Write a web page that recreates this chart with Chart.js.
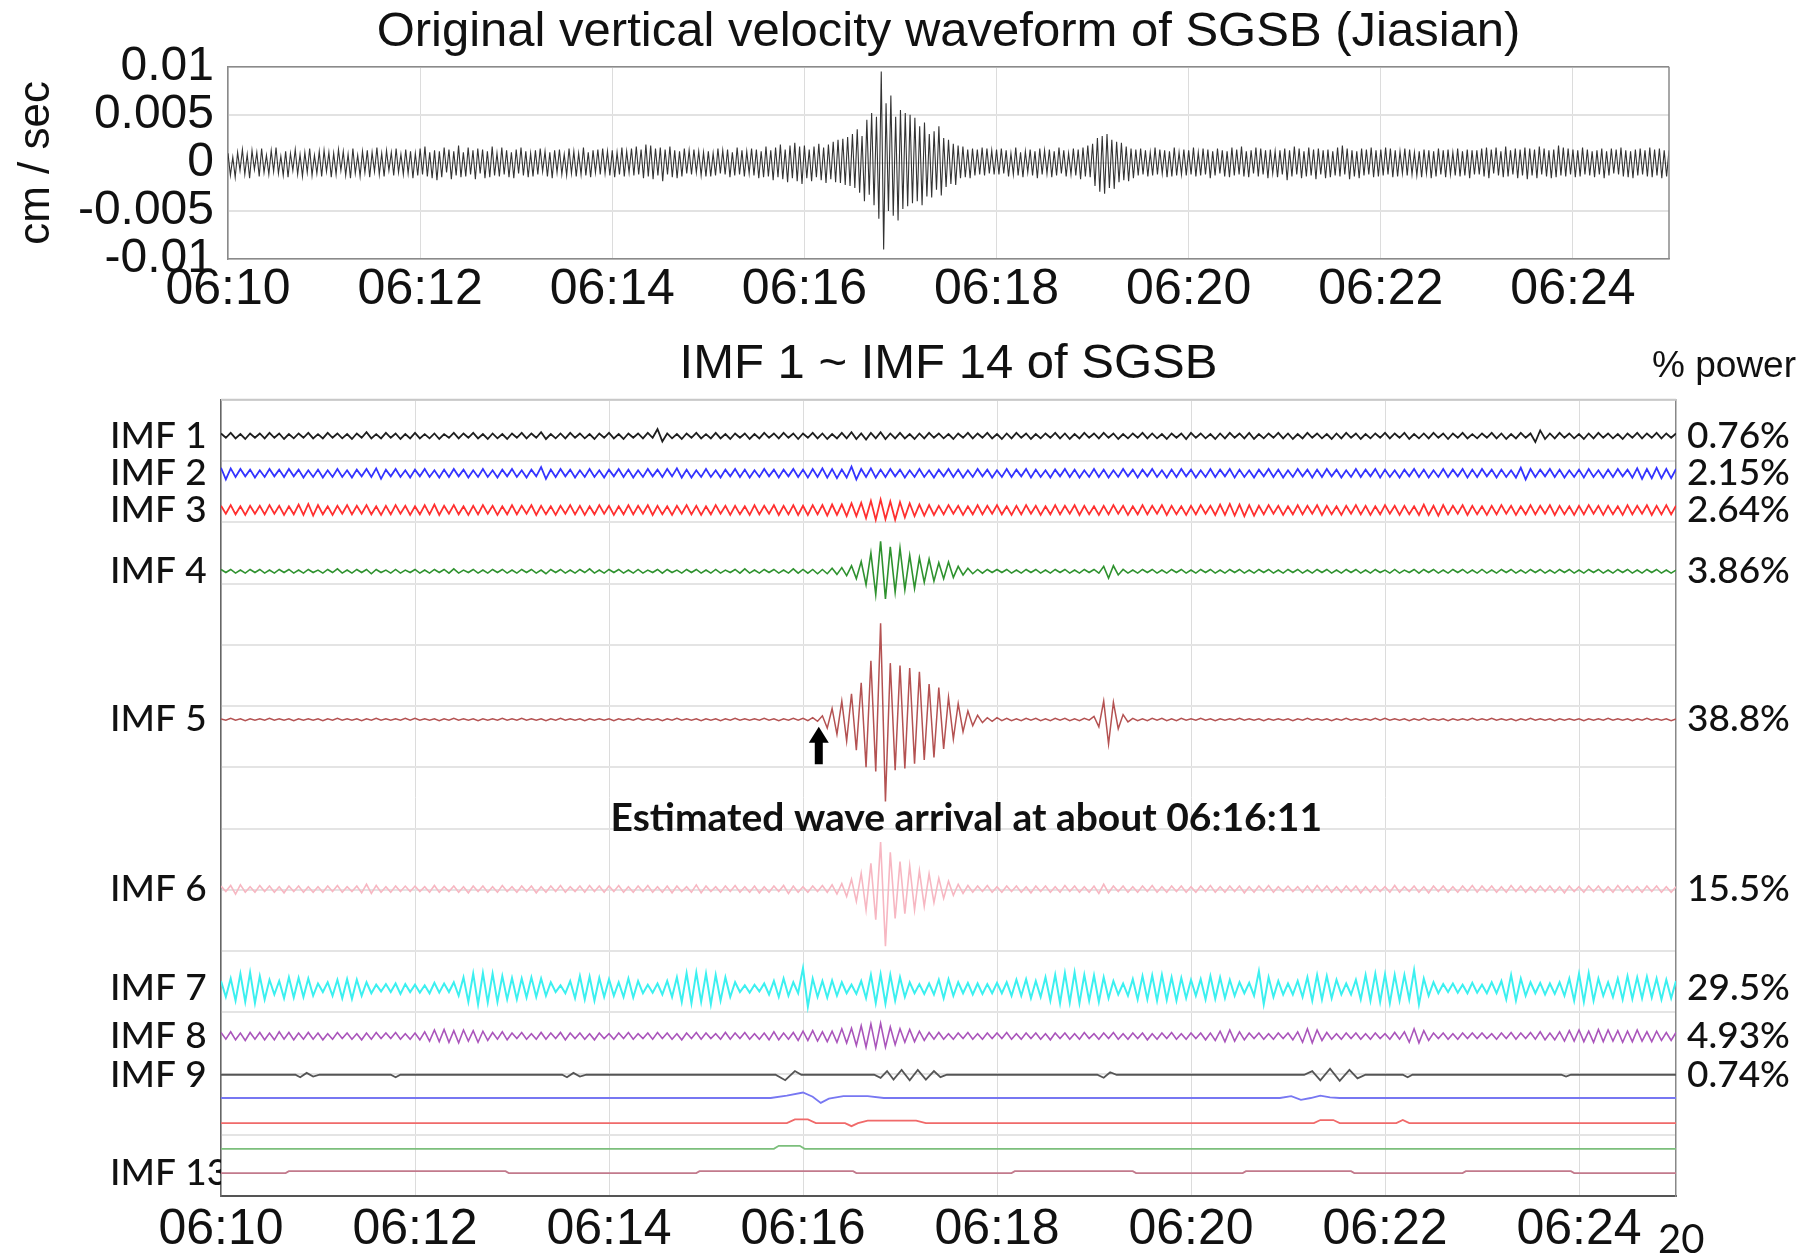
<!DOCTYPE html>
<html>
<head>
<meta charset="utf-8">
<script src="https://cdn.jsdelivr.net/npm/chart.js@4.4.1/dist/chart.umd.min.js"></script>
<style>
  html, body { margin: 0; padding: 0; background: #fff; }
  body { width: 1816px; height: 1258px; position: relative; overflow: hidden; }
  #topWrap { position: absolute; left: 0; top: 0; width: 1816px; height: 330px; }
  #botWrap { position: absolute; left: 0; top: 330px; width: 1816px; height: 928px; }
  .note { position: absolute; color: #111; white-space: nowrap; }
  #power { right: 20px; top: 344px; font: 37px "Liberation Sans", Arial, sans-serif; }
  #page { left: 1658px; top: 1214px; font: 40px Lato, "Open Sans", sans-serif; }
</style>
</head>
<body>
<div id="topWrap"><canvas id="topChart"></canvas></div>
<div id="botWrap"><canvas id="imfChart"></canvas></div>
<div class="note" id="power">% power</div>
<div class="note" id="page">20</div>
<script>
// ---- data -------------------------------------------------------------
const VEL_DT = 1.5; // seconds between samples of the raw record, t = 0 is 06:10:00
const DT = 3;       // seconds between samples of the IMFs
const tickSeconds = [0, 120, 240, 360, 480, 600, 720, 840];
const tickLabels = ['06:10', '06:12', '06:14', '06:16', '06:18', '06:20', '06:22', '06:24'];
const velTicks = [-0.01, -0.005, 0, 0.005, 0.01];
const velTickLabels = ['-0.01', '-0.005', '0', '0.005', '0.01'];

// original vertical velocity, units of 1e-4 cm/s, one row per minute
const velocity = [
  10,-13,6,-15,11,-8,14,-12,9,-16,13,-7,11,-14,15,-10,8,-12,13,-9,16,-11,7,-13,12,-15,10,-8,14,-12,9,-14,11,-10,15,-13,8,-11,12,-14,
  13,-9,11,-15,10,-12,14,-8,12,-13,9,-16,15,-11,8,-14,12,-10,13,-15,11,-9,16,-12,10,-14,13,-8,11,-13,15,-10,9,-12,14,-11,12,-16,10,-13,
  15,-12,17,-14,11,-16,13,-18,12,-15,16,-10,14,-17,12,-13,18,-15,11,-14,16,-12,13,-17,15,-11,14,-16,12,-15,17,-13,10,-14,16,-12,13,-15,11,-16,
  14,-11,16,-13,12,-15,10,-14,13,-12,15,-9,12,-14,11,-16,13,-10,14,-12,9,-13,15,-11,12,-14,10,-12,16,-13,11,-15,13,-10,14,-12,15,-11,12,-13,
  13,-15,11,-12,16,-14,12,-10,15,-13,17,-12,14,-16,19,-14,18,-17,15,-13,16,-19,14,-12,17,-15,13,-16,12,-14,15,-11,13,-12,14,-10,12,-13,11,-14,
  12,-14,10,-13,15,-11,13,-12,14,-15,11,-13,16,-12,13,-14,12,-11,15,-13,14,-16,12,-15,17,-14,13,-18,16,-15,19,-17,14,-20,18,-16,21,-19,17,-22,
  18,-16,14,-19,17,-15,20,-18,16,-21,19,-17,22,-20,24,-21,25,-23,27,-24,30,-26,35,-31,28,-40,45,-33,52,-44,48,-58,95,-90,62,-50,70,-55,48,-60,
  55,-48,52,-45,50,-42,47,-40,38,-44,42,-35,30,-36,33,-28,38,-34,26,-25,24,-22,20,-23,18,-16,17,-15,14,-16,15,-13,14,-12,16,-13,15,-11,13,-12,
  14,-12,15,-11,13,-14,10,-12,16,-13,11,-15,12,-10,14,-13,12,-16,15,-12,13,-11,14,-15,12,-13,16,-11,13,-14,10,-12,15,-13,14,-17,16,-14,18,-15,
  20,-24,26,-30,28,-32,30,-26,24,-27,22,-20,21,-18,17,-19,15,-16,14,-13,15,-12,13,-14,11,-13,16,-12,14,-11,13,-15,12,-14,16,-13,11,-12,14,-13,
  13,-12,16,-14,11,-13,15,-12,14,-16,12,-13,15,-11,13,-14,12,-15,16,-13,14,-12,17,-14,12,-15,13,-11,16,-14,15,-12,13,-16,14,-11,12,-15,13,-12,
  15,-18,13,-14,17,-12,15,-16,12,-14,16,-13,14,-17,15,-12,13,-16,14,-15,12,-13,16,-14,18,-12,15,-17,13,-14,12,-16,15,-13,14,-12,16,-15,13,-14,
  14,-13,16,-12,15,-15,13,-14,12,-11,15,-13,14,-12,11,-13,12,-15,14,-11,13,-16,12,-14,15,-12,13,-15,14,-12,11,-13,15,-14,12,-13,14,-16,13,-12,
  13,-12,15,-14,16,-16,14,-11,16,-13,12,-15,17,-14,13,-12,15,-16,14,-13,16,-17,15,-13,14,-16,17,-12,15,-14,13,-16,14,-15,18,-13,16,-14,15,-12,
  14,-15,13,-14,16,-12,14,-13,12,-15,13,-12,15,-16,12,-13,15,-11,14,-12,16,-14,13,-15,12,-16,14,-13,15,-12,13,-14,16,-15,14,-13,15,-16,13,-14,
  13
];

// IMF components, units of 0.01 trace unit, sampled every DT seconds
const imf1 = [
  4,-3,5,-4,3,-5,4,-3,4,-4,5,-3,4,-5,3,-4,4,-3,5,-4,
  3,-4,5,-3,4,-4,3,-5,4,-3,6,-4,3,-4,5,-3,4,-5,3,-4,
  5,-4,3,-4,4,-5,3,-3,5,-4,4,-3,5,-4,3,-5,4,-4,3,-5,
  4,-3,5,-4,4,-3,6,-5,3,-4,4,-4,5,-3,4,-4,3,-5,4,-3,
  5,-4,3,-5,4,-3,4,-4,5,-3,11,-9,4,-4,3,-5,4,-3,5,-4,
  3,-4,5,-4,3,-5,4,-3,4,-5,3,-4,5,-3,4,-4,5,-3,4,-5,
  4,-3,5,-4,4,-5,3,-4,5,-4,6,-5,4,-6,5,-4,6,-5,4,-4,
  5,-4,3,-5,4,-4,5,-3,4,-4,3,-5,4,-3,5,-4,4,-3,5,-4,
  3,-5,4,-4,5,-3,4,-5,3,-4,4,-3,5,-4,4,-5,3,-4,5,-3,
  4,-4,5,-3,4,-5,3,-4,4,-3,5,-4,4,-4,3,-5,4,-3,4,-5,
  5,-3,4,-4,3,-5,4,-4,5,-3,4,-4,5,-5,3,-4,4,-3,5,-4,
  4,-5,3,-4,5,-3,4,-4,3,-5,4,-4,5,-3,4,-5,3,-4,4,-3,
  5,-4,4,-3,5,-5,3,-4,4,-4,5,-3,4,-5,4,-3,5,-4,3,-4,
  4,-3,5,-4,4,-5,3,-4,5,-3,4,-10,9,-5,4,-4,5,-3,4,-4,
  3,-5,4,-4,5,-3,4,-4,3,-5,4,-3,5,-4,4,-3,5,-4,4,-3,
  4
];
const imf2 = [
  9,-10,8,-6,7,-5,6,-7,5,-6,7,-5,6,-6,7,-5,6,-7,5,-6,
  6,-7,5,-6,7,-6,5,-7,6,-5,7,-6,8,-9,6,-5,7,-6,5,-7,
  6,-5,7,-6,5,-7,6,-6,7,-5,6,-7,5,-6,7,-6,5,-7,6,-5,
  7,-6,5,-7,6,-5,10,-9,6,-6,7,-5,6,-7,5,-6,7,-6,5,-7,
  6,-5,7,-6,6,-7,5,-6,7,-5,6,-6,7,-5,8,-7,6,-7,5,-6,
  7,-6,5,-7,6,-5,7,-6,6,-7,5,-6,7,-5,6,-7,6,-5,7,-6,
  6,-7,7,-6,8,-7,7,-8,6,-7,11,-10,7,-6,8,-7,6,-6,7,-5,
  6,-7,5,-6,7,-6,5,-7,6,-5,7,-6,6,-7,5,-6,7,-5,6,-7,
  5,-6,7,-6,6,-5,7,-7,6,-6,5,-7,6,-5,7,-6,6,-7,5,-6,
  7,-6,6,-7,5,-6,7,-5,6,-7,6,-5,7,-6,5,-7,6,-6,7,-5,
  6,-7,5,-6,7,-6,6,-5,7,-7,6,-6,5,-7,6,-5,7,-6,6,-7,
  5,-6,7,-5,6,-7,6,-6,7,-5,6,-7,5,-6,7,-6,6,-5,7,-7,
  6,-6,5,-7,6,-5,7,-6,6,-7,5,-6,7,-6,6,-5,7,-7,6,-6,
  7,-5,6,-7,6,-6,5,-7,9,-10,7,-6,6,-5,7,-6,6,-7,5,-6,
  6,-7,7,-6,5,-7,6,-6,7,-5,6,-7,8,-9,7,-8,9,-8,7,-8,
  7
];
const imf3 = [
  7,-6,8,-7,6,-8,7,-6,7,-7,8,-6,7,-8,6,-7,9,-8,10,-9,
  8,-7,6,-8,7,-6,8,-7,7,-6,8,-7,6,-8,7,-7,8,-6,7,-8,
  6,-7,8,-7,9,-8,7,-6,8,-7,6,-8,7,-7,8,-6,7,-8,6,-7,
  8,-7,7,-6,8,-8,7,-7,6,-8,7,-6,8,-7,7,-8,6,-7,8,-6,
  7,-8,6,-7,8,-7,7,-6,8,-8,7,-7,6,-8,7,-6,8,-7,7,-8,
  6,-7,8,-6,7,-8,7,-7,6,-8,8,-7,7,-6,8,-8,7,-7,8,-8,
  7,-8,8,-7,8,-9,9,-8,9,-10,11,-10,12,-13,15,-16,17,-15,14,-16,
  13,-12,11,-10,9,-9,8,-8,7,-7,8,-6,7,-8,6,-7,8,-7,7,-6,
  8,-7,6,-8,7,-7,8,-6,7,-8,6,-7,8,-7,7,-6,8,-8,7,-7,
  6,-8,7,-7,8,-6,7,-8,6,-7,8,-7,7,-6,8,-8,7,-7,6,-8,
  7,-7,8,-6,7,-8,9,-8,10,-9,9,-10,8,-9,7,-7,8,-6,7,-8,
  6,-7,8,-7,7,-6,8,-8,7,-7,6,-8,7,-6,8,-7,7,-8,6,-7,
  8,-6,7,-8,7,-7,6,-8,9,-8,7,-9,8,-7,7,-6,8,-8,7,-7,
  6,-8,7,-7,8,-6,7,-8,6,-7,8,-7,7,-6,8,-8,7,-7,6,-8,
  7,-7,8,-6,7,-8,7,-7,6,-8,8,-7,7,-6,8,-8,7,-7,8,-7,
  7
];
const imf4 = [
  3,-2,3,-3,2,-3,3,-2,3,-3,2,-3,3,-2,3,-3,2,-3,3,-2,
  2,-3,3,-2,4,-3,2,-3,3,-2,3,-4,3,-2,2,-3,3,-3,2,-2,
  3,-3,2,-3,3,-2,3,-3,4,-3,2,-2,3,-3,2,-3,3,-2,3,-3,
  2,-3,3,-2,3,-3,2,-4,3,-2,3,-3,2,-3,3,-2,4,-3,2,-3,
  3,-2,3,-3,2,-3,3,-3,2,-2,3,-3,3,-2,2,-3,3,-2,3,-3,
  2,-3,3,-3,2,-2,3,-3,4,-3,2,-3,3,-2,3,-3,2,-3,4,-3,
  3,-3,3,-4,3,-4,5,-5,6,-7,9,-12,16,-22,30,-38,49,-45,40,-34,
  38,-30,26,-28,22,-18,20,-16,14,-12,15,-10,8,-6,5,-4,3,-3,3,-2,
  3,-2,3,-3,2,-3,3,-2,3,-3,2,-3,3,-2,3,-3,2,-3,3,-2,
  3,-3,8,-11,9,-6,3,-3,2,-3,3,-2,3,-3,2,-3,3,-2,3,-3,
  2,-3,3,-2,3,-3,2,-3,3,-2,3,-3,2,-3,3,-2,3,-3,2,-3,
  3,-2,3,-3,2,-3,3,-2,3,-3,2,-3,3,-2,3,-3,2,-3,3,-2,
  2,-3,3,-3,2,-2,3,-3,3,-2,3,-3,2,-3,3,-2,3,-3,2,-3,
  3,-3,2,-3,3,-2,3,-3,2,-3,3,-2,3,-3,2,-3,3,-2,3,-3,
  2,-3,3,-2,3,-3,2,-3,3,-2,3,-3,2,-3,3,-2,3,-3,2,-3,
  2
];
const imf5 = [
  1,-1,2,-1,1,-2,1,-1,1,-1,2,-1,1,-1,1,-2,1,-1,1,-1,
  1,-2,1,-1,2,-1,1,-1,1,-2,1,-1,2,-1,1,-1,1,-1,2,-1,
  2,-1,1,-1,1,-2,1,-1,2,-1,1,-1,1,-2,1,-1,1,-1,2,-1,
  1,-1,2,-1,1,-1,1,-2,1,-1,2,-1,1,-1,1,-2,1,-1,1,-1,
  1,-2,1,-1,1,-1,2,-1,1,-1,1,-2,1,-1,2,-1,1,-1,1,-2,
  1,-1,1,-2,1,-1,2,-1,1,-1,1,-1,2,-1,1,-2,1,-1,2,-1,
  2,-2,3,-3,6,-14,18,-24,30,-35,42,-50,60,-78,96,-85,157,-134,92,-83,
  88,-80,84,-72,78,-66,58,-62,52,-48,36,-32,26,-20,14,-10,7,-5,3,-3,
  3,-2,2,-2,1,-2,2,-1,2,-2,1,-2,2,-1,2,-2,1,-2,2,-1,
  5,-12,30,-40,28,-15,8,-4,2,-2,1,-2,2,-1,2,-2,1,-2,2,-1,
  1,-1,2,-1,1,-2,1,-1,1,-1,2,-1,1,-1,1,-2,1,-1,1,-1,
  1,-2,1,-1,2,-1,1,-1,1,-2,1,-1,2,-1,1,-1,1,-1,2,-1,
  2,-1,1,-1,1,-2,1,-1,2,-1,1,-1,1,-2,1,-1,1,-1,2,-1,
  1,-1,2,-1,1,-1,1,-2,1,-1,2,-1,1,-1,1,-2,1,-1,1,-1,
  1,-2,1,-1,1,-1,2,-1,1,-1,1,-2,1,-1,2,-1,1,-1,1,-2,
  1
];
const imf6 = [
  5,-4,6,-8,7,-5,4,-5,6,-4,5,-5,4,-6,5,-4,5,-5,4,-5,
  4,-5,5,-4,6,-5,4,-4,5,-6,8,-7,6,-5,4,-5,5,-4,5,-4,
  5,-4,4,-5,6,-5,4,-4,5,-5,4,-6,5,-4,5,-5,4,-5,6,-4,
  4,-5,5,-4,5,-6,4,-5,5,-4,6,-5,4,-4,5,-5,6,-4,5,-5,
  5,-4,6,-5,4,-5,5,-4,6,-5,4,-5,5,-6,5,-4,4,-5,7,-6,
  5,-4,4,-5,5,-4,6,-5,4,-5,5,-6,4,-5,5,-4,6,-7,5,-5,
  4,-5,5,-4,6,-5,7,-8,9,-12,16,-20,26,-34,42,-50,77,-93,60,-48,
  45,-40,38,-34,30,-28,25,-22,18,-15,13,-10,8,-7,6,-5,5,-4,6,-5,
  4,-5,5,-4,5,-5,4,-6,5,-4,5,-5,4,-5,6,-4,5,-5,4,-5,
  5,-7,8,-6,5,-4,5,-5,4,-5,5,-4,6,-5,4,-5,5,-4,5,-5,
  4,-5,5,-4,6,-5,4,-5,5,-4,5,-6,4,-5,5,-4,6,-5,4,-4,
  5,-4,4,-5,5,-5,6,-4,5,-5,4,-5,5,-4,5,-6,4,-5,5,-4,
  4,-5,6,-5,4,-4,5,-5,4,-6,5,-4,5,-5,4,-5,5,-4,6,-5,
  5,-4,5,-5,4,-5,6,-4,5,-5,4,-5,5,-4,5,-5,4,-6,5,-4,
  4,-5,5,-4,5,-5,4,-5,6,-4,5,-5,4,-5,5,-4,5,-5,4,-5,
  4
];
const imf7 = [
  12,-14,16,-20,24,-22,26,-24,20,-18,14,-10,12,-16,18,-15,17,-14,16,-12,
  8,-6,10,-12,14,-16,15,-17,14,-12,10,-8,6,-5,7,-6,8,-9,7,-6,
  6,-7,5,-8,9,-7,8,-6,10,-12,18,-22,24,-26,25,-23,24,-22,20,-18,
  17,-18,16,-15,18,-14,16,-12,10,-6,5,-8,12,-16,20,-18,19,-20,17,-14,
  15,-12,10,-14,16,-15,12,-8,6,-7,8,-10,12,-14,18,-22,25,-24,26,-22,
  24,-26,22,-20,18,-14,10,-6,5,-7,6,-5,8,-10,12,-14,16,-12,10,-8,
  33,-30,16,-14,12,-15,13,-12,10,-8,6,-9,12,-16,22,-24,23,-25,22,-20,
  18,-14,10,-8,7,-9,8,-10,14,-16,15,-12,10,-8,9,-10,8,-9,7,-8,
  9,-8,10,-12,14,-12,15,-16,12,-14,18,-20,22,-24,25,-23,26,-24,22,-20,
  21,-22,18,-16,12,-10,8,-12,15,-18,20,-18,21,-20,22,-19,18,-20,17,-16,
  14,-12,15,-18,20,-17,18,-16,14,-12,10,-8,9,-12,28,-26,18,-14,12,-10,
  8,-10,12,-14,18,-20,22,-18,20,-16,14,-10,8,-10,14,-18,22,-20,24,-22,
  23,-24,22,-20,22,-18,30,-26,16,-12,10,-8,7,-6,8,-7,6,-8,9,-7,
  6,-8,10,-8,12,-18,22,-20,16,-12,10,-8,9,-10,8,-9,10,-12,16,-20,
  24,-22,25,-20,16,-12,10,-14,16,-18,20,-17,18,-16,19,-15,16,-18,14,-16,
  12
];
const imf8 = [
  6,-5,7,-6,5,-7,6,-5,6,-6,5,-6,7,-5,6,-6,5,-5,6,-5,
  5,-6,4,-5,6,-4,5,-5,4,-6,5,-5,6,-4,5,-4,6,-5,4,-5,
  5,-6,7,-8,10,-9,11,-10,9,-11,10,-8,9,-10,8,-7,6,-5,7,-6,
  5,-4,6,-5,4,-5,6,-5,5,-4,6,-6,5,-4,5,-5,4,-6,5,-4,
  4,-5,5,-4,6,-5,4,-4,5,-5,6,-4,5,-5,4,-6,5,-4,6,-5,
  5,-4,4,-5,6,-5,5,-4,6,-5,4,-5,5,-6,7,-6,5,-5,6,-7,
  8,-7,9,-8,7,-9,8,-10,12,-11,13,-15,17,-18,20,-19,21,-18,15,-14,
  12,-10,11,-9,8,-7,6,-5,6,-5,4,-5,5,-4,6,-5,4,-5,5,-4,
  5,-4,6,-5,4,-5,5,-4,5,-5,4,-6,5,-4,5,-5,4,-5,6,-4,
  4,-5,5,-4,6,-5,4,-5,5,-4,5,-6,4,-5,5,-4,6,-5,4,-5,
  5,-4,5,-6,5,-7,8,-9,10,-8,7,-6,5,-4,5,-5,4,-5,5,-4,
  5,-6,7,-10,12,-11,10,-7,6,-5,4,-5,5,-4,5,-5,4,-5,5,-4,
  4,-5,6,-5,7,-10,12,-11,9,-7,5,-4,5,-5,4,-5,5,-4,5,-4,
  5,-4,4,-5,5,-4,6,-5,5,-4,6,-5,7,-6,5,-6,7,-8,9,-8,
  10,-9,8,-10,11,-9,10,-8,9,-10,8,-9,10,-8,7,-9,8,-7,6,-7,
  6
];
// slow IMFs as [second, value] pairs, value in 0.01 trace unit
const imf9 = [[0,0],[46,0],[49,-4],[53,3],[57,-3],[61,0],[105,0],[108,-4],[111,0],[211,0],[214,-4],[218,3],[222,-3],[226,0],
  [343,0],[349,-9],[355,6],[359,0],[404,0],[408,-5],[412,6],[416,-8],[421,8],[426,-9],[431,8],[436,-8],[441,6],[445,-4],[449,0],
  [542,0],[546,-5],[550,4],[554,0],[670,0],[675,6],[680,-9],[686,10],[692,-10],[698,8],[703,-6],[708,0],[731,0],[734,-4],[737,0],
  [829,0],[832,-3],[835,0],[900,0]];
const imf10 = [[0,0],[340,0],[350,4],[360,9],[366,2],[371,-8],[376,-1],[385,3],[400,3],[410,0],
  [655,0],[662,3],[668,-3],[674,0],[680,4],[686,1],[692,0],[900,0]];
const imf11 = [[0,0],[350,0],[355,6],[363,6],[368,0],[386,0],[390,-5],[394,0],[400,4],[430,4],[436,0],
  [676,0],[680,5],[688,5],[692,0],[727,0],[731,5],[735,0],[900,0]];
const imf12 = [[0,0],[342,0],[345,5],[358,5],[361,0],[900,0]];
const imf13 = [[0,0],[40,0],[42,3],[176,3],[178,0],[294,0],[296,3],[391,3],[393,0],[489,0],[491,3],[564,3],[566,0],
  [632,0],[634,3],[699,3],[701,0],[768,0],[770,3],[835,3],[837,0],[900,0]];

const imfLeftLabels = ['IMF 1','IMF 2','IMF 3','IMF 4','IMF 5','IMF 6','IMF 7','IMF 8','IMF 9','','','','IMF 13'];
const imfPower = ['0.76%','2.15%','2.64%','3.86%','38.8%','15.5%','29.5%','4.93%','0.74%','','','',''];
const arrivalSec = 371; // 06:16:11
const arrivalNote = 'Estimated wave arrival at about 06:16:11';

// ---- layout / style ---------------------------------------------------
const SANS = '"Liberation Sans", Arial, sans-serif';
const LABEL = 'Lato, "Open Sans", sans-serif';
const GAIN = 0.01;
const imfBase = [12.41, 11.80, 11.20, 10.20, 7.78, 5.01, 3.39, 2.61, 1.98, 1.60, 1.19, 0.77, 0.375];
const imfColors = ['#1e1e1e', '#3434ff', '#ff3030', '#2f922f', '#b45252', '#f7b7c2', '#3cf0f0',
                   '#aa55bb', '#555555', '#7777f2', '#f06a6a', '#7cbf7c', '#c27a8c'];
const imfWidths = [1.8, 1.8, 1.8, 1.6, 1.5, 1.6, 2, 1.6, 1.8, 1.8, 1.8, 1.8, 1.8];

const dense = [imf1, imf2, imf3, imf4, imf5, imf6, imf7, imf8];
const sparse = [imf9, imf10, imf11, imf12, imf13];

const imfDatasets = [];
dense.forEach((vals, k) => {
  imfDatasets.push({
    data: vals.map((v, i) => ({ x: i * DT, y: imfBase[k] + v * GAIN })),
    yAxisID: 'yGrid', borderColor: imfColors[k], borderWidth: imfWidths[k], pointRadius: 0, tension: 0
  });
});
sparse.forEach((pairs, j) => {
  const k = j + dense.length;
  imfDatasets.push({
    data: pairs.map(([t, v]) => ({ x: t, y: imfBase[k] + v * GAIN })),
    yAxisID: 'yGrid', borderColor: imfColors[k], borderWidth: imfWidths[k], pointRadius: 0, tension: 0
  });
});

const timeAxis = (extra) => Object.assign({
  type: 'linear', min: 0, max: 900,
  afterBuildTicks: s => { s.ticks = tickSeconds.map(v => ({ value: v })); },
  grid: { color: '#dcdcdc', lineWidth: 1, drawTicks: false }
}, extra);

// frame lines on the sides that have no axis
const frame = {
  id: 'frame',
  afterDraw(chart, args, opts) {
    const { ctx, chartArea: a } = chart;
    ctx.save();
    ctx.strokeStyle = opts.color;
    ctx.lineWidth = opts.width;
    ctx.beginPath();
    ctx.moveTo(a.left, a.top); ctx.lineTo(a.right, a.top);
    if (opts.right) { ctx.moveTo(a.right, a.top); ctx.lineTo(a.right, a.bottom); }
    ctx.stroke();
    ctx.restore();
  }
};

// ---- top chart --------------------------------------------------------
new Chart(document.getElementById('topChart'), {
  type: 'line',
  data: {
    datasets: [{
      data: velocity.map((v, i) => ({ x: i * VEL_DT, y: v * 1e-4 })),
      borderColor: '#333', borderWidth: 1.1, pointRadius: 0, tension: 0
    }]
  },
  options: {
    animation: false, responsive: true, maintainAspectRatio: false,
    layout: { padding: { left: 0, right: 147, top: 0, bottom: 0 } },
    plugins: {
      legend: { display: false }, tooltip: { enabled: false },
      title: { display: true, fullSize: false, text: 'Original vertical velocity waveform of SGSB (Jiasian)',
               color: '#111', font: { family: SANS, size: 49, weight: 'normal' }, padding: { top: 3, bottom: 5 } },
      frame: { color: '#8a8a8a', width: 1.5, right: true }
    },
    scales: {
      x: timeAxis({
        ticks: { callback: (v, i) => tickLabels[i], font: { family: SANS, size: 50 }, color: '#111',
                 maxRotation: 0, autoSkip: false, padding: 1 },
        border: { color: '#8a8a8a', width: 1.5 },
        afterFit: s => { s.height = 71; }
      }),
      y: {
        min: -0.01, max: 0.01,
        afterBuildTicks: s => { s.ticks = velTicks.map(v => ({ value: v })); },
        ticks: { callback: (v, i) => velTickLabels[i], font: { family: SANS, size: 48 }, color: '#111',
                 padding: 14, autoSkip: false },
        grid: { color: '#e2e2e2', lineWidth: 2, drawTicks: false },
        border: { color: '#8a8a8a', width: 1.5 },
        title: { display: true, text: 'cm / sec', color: '#111', font: { family: SANS, size: 44 },
                 padding: { top: 10, bottom: 0 } },
        afterFit: s => { s.width = 228; }
      }
    }
  },
  plugins: [frame]
});

// ---- IMF chart --------------------------------------------------------
const arrivalMark = {
  id: 'arrivalMark',
  afterDatasetsDraw(chart) {
    const { ctx, scales: { x, yGrid } } = chart;
    const ax = x.getPixelForValue(arrivalSec) - 2;
    const top = yGrid.getPixelForValue(7.66);
    const bot = yGrid.getPixelForValue(7.05);
    ctx.save();
    ctx.fillStyle = '#000';
    ctx.beginPath();
    ctx.moveTo(ax, top);
    ctx.lineTo(ax + 10, top + 16);
    ctx.lineTo(ax + 4, top + 16);
    ctx.lineTo(ax + 4, bot);
    ctx.lineTo(ax - 4, bot);
    ctx.lineTo(ax - 4, top + 16);
    ctx.lineTo(ax - 10, top + 16);
    ctx.closePath();
    ctx.fill();
    ctx.font = 'bold 39px ' + LABEL;
    ctx.textAlign = 'center';
    ctx.textBaseline = 'middle';
    ctx.fillStyle = '#111';
    ctx.fillText(arrivalNote, x.getPixelForValue(461), yGrid.getPixelForValue(6.17));
    ctx.restore();
  }
};

new Chart(document.getElementById('imfChart'), {
  type: 'line',
  data: { datasets: imfDatasets },
  options: {
    animation: false, responsive: true, maintainAspectRatio: false,
    layout: { padding: { left: 110, right: 0, top: 0, bottom: 0 } },
    plugins: {
      legend: { display: false }, tooltip: { enabled: false },
      title: { display: true, fullSize: false, text: 'IMF 1 ~ IMF 14 of SGSB', color: '#111',
               font: { family: SANS, size: 49, weight: 'normal' }, padding: { top: 5, bottom: 6 } },
      frame: { color: '#c8c8c8', width: 2, right: false }
    },
    scales: {
      x: timeAxis({
        border: { color: '#555', width: 2 },
        ticks: { callback: (v, i) => tickLabels[i], font: { family: SANS, size: 50 }, color: '#111',
                 maxRotation: 0, autoSkip: false, padding: 4 },
        afterFit: s => { s.height = 62; }
      }),
      yGrid: {
        position: 'left', min: 0, max: 13,
        ticks: { display: false, stepSize: 1 },
        grid: { color: '#e4e4e4', lineWidth: 2, drawTicks: false },
        border: { display: false },
        afterFit: s => { s.width = 0; }
      },
      yLab: {
        position: 'left', min: 0, max: 13,
        afterBuildTicks: s => { s.ticks = imfBase.map(v => ({ value: v })); },
        ticks: { callback: (v, i) => imfLeftLabels[i], font: { family: LABEL, size: 37, weight: 500 }, color: '#111',
                 crossAlign: 'far', autoSkip: false },
        grid: { display: false, drawTicks: false },
        border: { color: '#666', width: 1.5 },
        afterFit: s => { s.width = 111; }
      },
      yPct: {
        position: 'right', min: 0, max: 13,
        afterBuildTicks: s => { s.ticks = imfBase.map(v => ({ value: v })); },
        ticks: { callback: (v, i) => imfPower[i], font: { family: LABEL, size: 37, weight: 500 }, color: '#111',
                 padding: 11, autoSkip: false },
        grid: { display: false, drawTicks: false },
        border: { color: '#888', width: 1.5, dash: [4, 3] },
        afterFit: s => { s.width = 140; }
      }
    }
  },
  plugins: [frame, arrivalMark]
});
</script>
</body>
</html>
